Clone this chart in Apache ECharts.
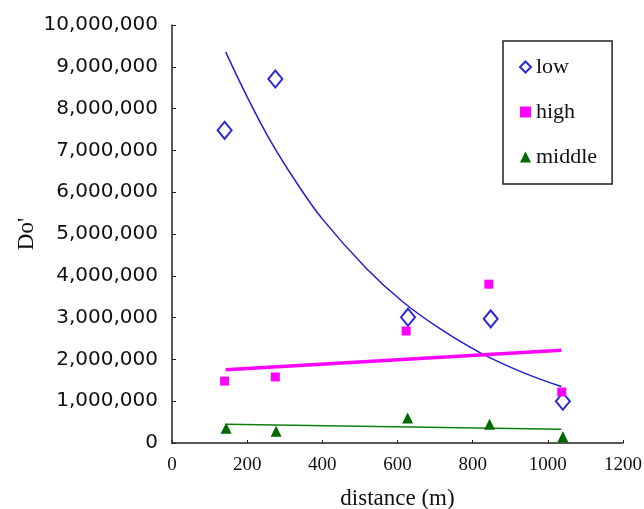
<!DOCTYPE html>
<html>
<head>
<meta charset="utf-8">
<script src="https://cdn.jsdelivr.net/npm/echarts@6/dist/echarts.min.js"></script>
<style>
  html, body { margin: 0; padding: 0; background: #ffffff; }
  #main { width: 644px; height: 509px; }
</style>
</head>
<body>
<div id="main"></div>
<script>
// measured points (distance in m, Do')
var lowX = [140, 275, 628, 848, 1040];
var lowY = [7480000, 8710000, 3010000, 2970000, 1000000];
var highX = [140, 275, 623, 843, 1037];
var highY = [1480000, 1580000, 2680000, 3800000, 1220000];
var midX = [144, 277, 627, 845, 1040];
var midY = [350000, 280000, 600000, 450000, 150000];

// trend lines
var lowTrendX = [143, 199, 260, 332, 401, 518, 614, 712, 818, 933, 1036];
var lowTrendY = [9350000, 8300000, 7260000, 6220000, 5350000, 4170000, 3380000, 2740000, 2170000, 1690000, 1350000];
var highTrendX = [143, 1036];
var highTrendY = [1750000, 2220000];
var midTrendX = [143, 1036];
var midTrendY = [450000, 330000];

var xTicks = [0, 200, 400, 600, 800, 1000, 1200];

function pairs(xs, ys) {
  var out = [];
  for (var i = 0; i < xs.length; i++) {
    out.push([xs[i], ys[i]]);
  }
  return out;
}

var chart = echarts.init(document.getElementById('main'));

var option = {
  animation: false,
  backgroundColor: '#ffffff',
  grid: {
    left: 172,
    right: 21,
    top: 25,
    bottom: 66,
    outerBoundsMode: 'none'
  },
  legend: {
    orient: 'vertical',
    left: 503,
    top: 41,
    padding: [15, 15, 16, 16],
    itemGap: 23,
    itemWidth: 11,
    itemHeight: 11,
    borderColor: '#222',
    borderWidth: 1.5,
    textStyle: {
      fontFamily: 'Liberation Serif',
      fontSize: 22,
      color: '#111'
    },
    data: [
      { name: 'low', icon: 'emptyDiamond' },
      { name: 'high', icon: 'rect' },
      { name: 'middle', icon: 'triangle' }
    ]
  },
  xAxis: {
    type: 'value',
    min: 0,
    max: 1200,
    interval: 200,
    name: 'distance (m)',
    nameLocation: 'middle',
    nameGap: 44,
    nameMoveOverlap: false,
    nameTextStyle: {
      fontFamily: 'Liberation Serif',
      fontSize: 23,
      color: '#111'
    },
    splitLine: { show: false },
    axisLine: { lineStyle: { color: '#222', width: 1.5 } },
    axisTick: { inside: true, length: 3, lineStyle: { color: '#222' } },
    axisLabel: {
      margin: 13,
      fontFamily: 'Liberation Serif',
      fontSize: 19,
      color: '#111',
      formatter: function (v) {
        return xTicks.indexOf(v) >= 0 ? String(v) : '';
      }
    }
  },
  yAxis: {
    type: 'value',
    min: 0,
    max: 10000000,
    interval: 1000000,
    name: "Do'",
    nameLocation: 'middle',
    nameGap: 134,
    nameMoveOverlap: false,
    nameTextStyle: {
      fontFamily: 'Liberation Serif',
      fontSize: 23,
      color: '#111'
    },
    splitLine: { show: false },
    axisLine: { show: true, lineStyle: { color: '#222', width: 1.5 } },
    axisTick: { show: true, inside: true, length: 4, lineStyle: { color: '#222' } },
    axisLabel: {
      margin: 14,
      fontFamily: 'DejaVu Sans',
      fontSize: 20,
      color: '#111',
      formatter: function (v) {
        return v.toLocaleString('en-US');
      }
    }
  },
  series: [
    {
      name: 'lowTrend',
      type: 'line',
      smooth: 0.4,
      showSymbol: false,
      data: pairs(lowTrendX, lowTrendY),
      lineStyle: { color: '#2020d0', width: 1.5 },
      silent: true
    },
    {
      name: 'highTrend',
      type: 'line',
      showSymbol: false,
      data: pairs(highTrendX, highTrendY),
      lineStyle: { color: '#ff00ff', width: 3.5 },
      silent: true
    },
    {
      name: 'midTrend',
      type: 'line',
      showSymbol: false,
      data: pairs(midTrendX, midTrendY),
      lineStyle: { color: '#0f800f', width: 1.5 },
      silent: true
    },
    {
      name: 'low',
      type: 'scatter',
      symbol: 'emptyDiamond',
      symbolSize: [14, 17],
      data: pairs(lowX, lowY),
      itemStyle: { color: '#2a2ad8', borderWidth: 1.5, opacity: 1 },
      z: 5
    },
    {
      name: 'high',
      type: 'scatter',
      symbol: 'rect',
      symbolSize: 9,
      data: pairs(highX, highY),
      itemStyle: { color: '#ff00ff', opacity: 1 },
      z: 5
    },
    {
      name: 'middle',
      type: 'scatter',
      symbol: 'triangle',
      symbolSize: 11,
      data: pairs(midX, midY),
      itemStyle: { color: '#006a00', opacity: 1 },
      z: 5
    }
  ]
};

chart.setOption(option);
</script>
</body>
</html>
